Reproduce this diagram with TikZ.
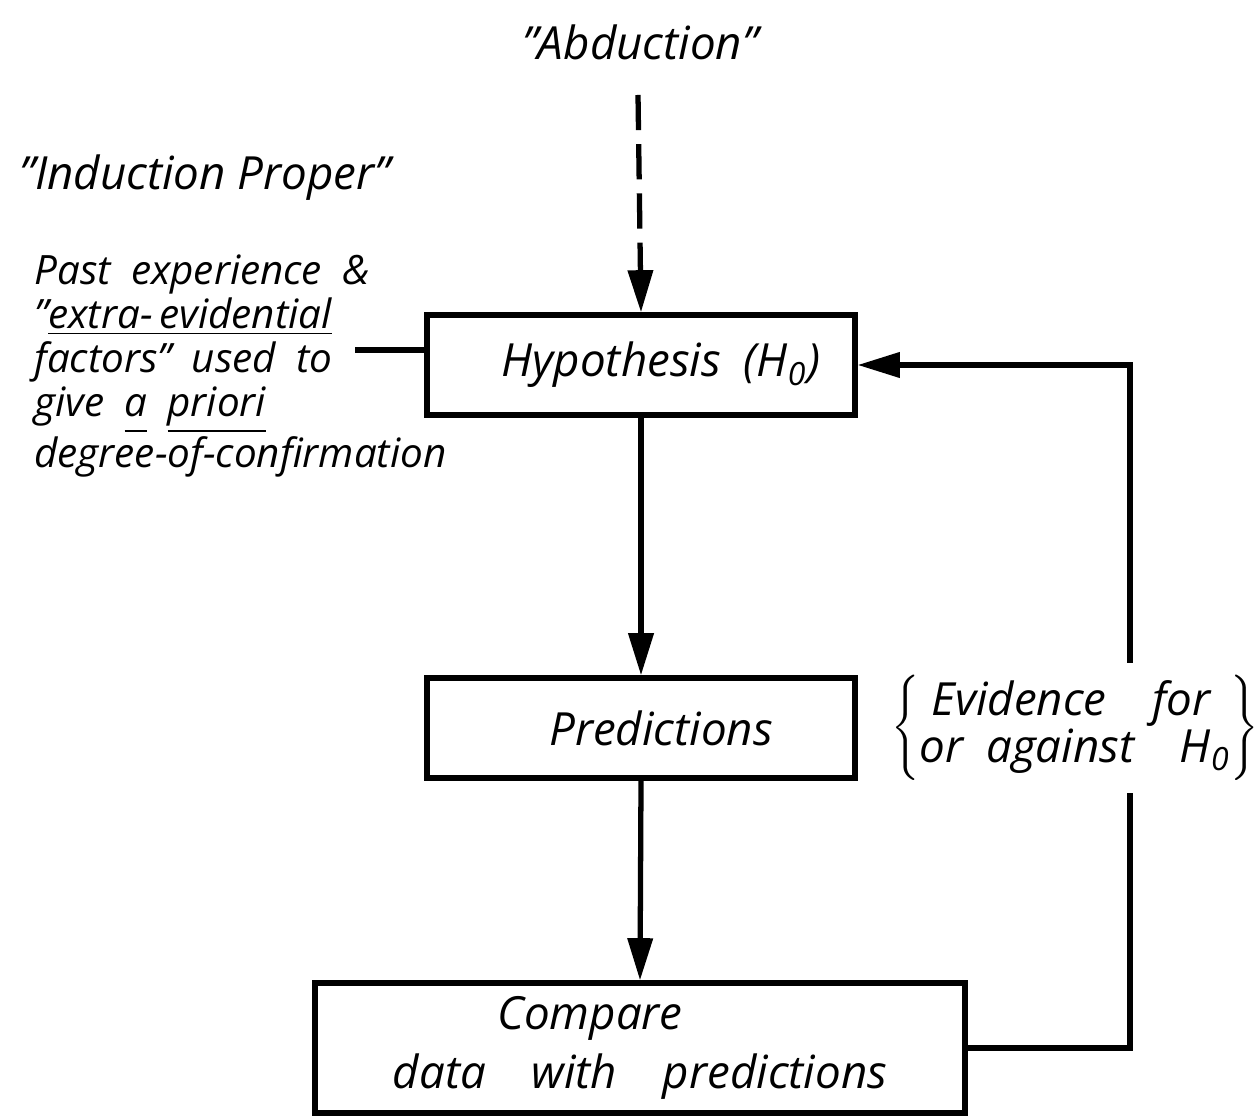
\documentclass[tikz,border=0pt]{standalone}
\usepackage{fontspec}
\setmainfont{Open Sans}
\usepackage{tikz}
\usetikzlibrary{arrows.meta}

\tikzset{
    stagebox/.style={draw,line width=1.5pt,inner sep=0pt},
    flow/.style={line width=1.5pt,-{Triangle[width=7pt,length=12pt]}},
    hand/.style={font=\itshape\fontsize{13}{13}\selectfont}
}

\begin{document}
\begin{tikzpicture}
    \useasboundingbox (0,0) rectangle (12.57,11.17);

    % Headings
    \node (abd) at (6.40,10.75) [hand] {"Abduction"};
    \node (ind) at (2.05,9.39) [hand] {"Induction Proper"};

    % Boxes
    \node (hyp) at (6.41,7.52) [stagebox,minimum width=4.28cm,minimum height=1.0cm,hand] {\hspace{0.4cm}Hypothesis\enspace(H\textsubscript{0})};
    \node (pred) at (6.41,3.89) [stagebox,minimum width=4.28cm,minimum height=1.0cm,hand] {\hspace{0.4cm}Predictions};
    \node (comp) at (6.40,0.69) [stagebox,minimum width=6.50cm,minimum height=1.30cm,hand,align=center]
        {\hspace{-1.0cm}Compare\\[4pt] data\quad with\quad predictions};

    % Prior knowledge
    \node (prior) at (0.22,7.51) [anchor=west,hand,font=\itshape\fontsize{11.5}{12.5}\selectfont,align=left]
        {Past\enspace experience\enspace\&\\
         "\underline{extra-\,evidential}\\
         factors"\enspace used\enspace to\\
         give\enspace\underline{\vphantom{p}a}\enspace\underline{priori}\\
         degree-of-confirmation};
    \coordinate (P) at (3.55,7.67);
    \draw [line width=1.5pt] (P) -- (P -| hyp.west);

    % Abduction feeds the hypothesis
    \coordinate (A) at (6.38,10.22);
    \draw [flow,dash pattern=on 10pt off 4pt] (A) -- (hyp.north);

    % Main flow
    \draw [flow] (hyp.south) -- (pred.north);
    \draw [flow] (pred.south) -- (comp.north);

    % Evidence loop
    \node (evid) at (10.75,3.89) [hand]
        {$\left\{\mbox{\begin{tabular}{@{}l@{}}\ Evidence\quad for\\ or\enspace against\quad H\textsubscript{0}\end{tabular}}\right\}$};
    \coordinate (R) at (11.30,0);
    \draw [line width=1.5pt] (comp.east) -- (comp.east -| R) -- (evid.south -| R);
    \draw [flow] (evid.north -| R) -- (hyp.east -| R) -- (hyp.east);
\end{tikzpicture}
\end{document}
